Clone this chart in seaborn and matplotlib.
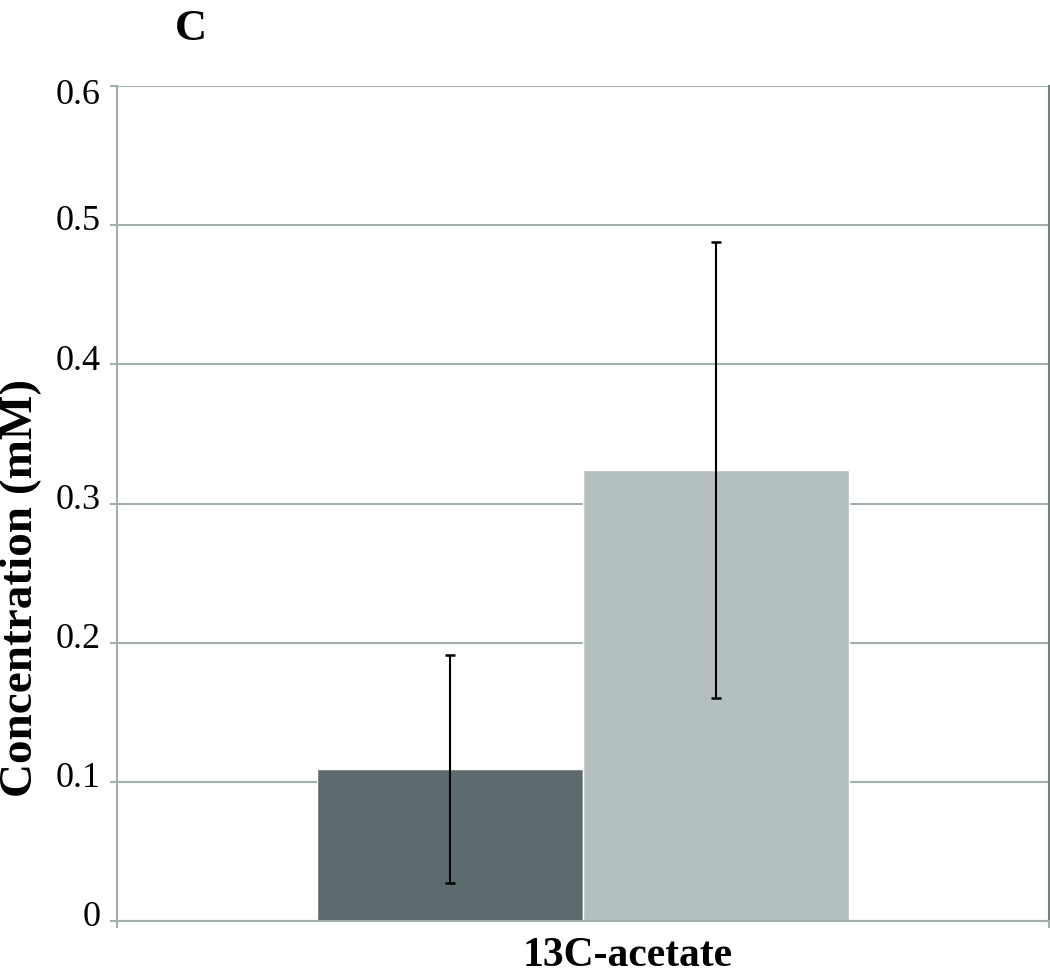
import pandas as pd
import matplotlib.pyplot as plt
import matplotlib.transforms as mtransforms
import seaborn as sns

# Values
categories = ["13C-acetate", "13C-acetate"]
groups = ["Group 1", "Group 2"]
means = [0.109, 0.324]
errors = [0.082, 0.164]
bar_colors = ["#5e6b6e", "#b4c0c0"]
ytick_values = [0, 0.1, 0.2, 0.3, 0.4, 0.5, 0.6]
ytick_labels = ["0", "0.1", "0.2", "0.3", "0.4", "0.5", "0.6"]

GRID = "#a2afab"


def build_frame():
    return pd.DataFrame({"category": categories, "group": groups, "value": means})


def draw(df):
    sns.set_style("white")
    plt.rcParams["font.family"] = ["Liberation Serif", "DejaVu Serif"]
    plt.rcParams["text.color"] = "black"
    plt.rcParams["axes.labelcolor"] = "black"

    fig = plt.figure(figsize=(10.5, 9.79), dpi=100)
    ax = fig.add_axes([0.1114, 0.0582, 0.8876, 0.8529])

    sns.barplot(data=df, x="category", y="value", hue="group",
                palette=bar_colors, width=0.8, saturation=1,
                errorbar=None, legend=False, ax=ax)

    # error bars at the centre of each bar
    bars = sorted(ax.patches, key=lambda p: p.get_x())
    for bar, m, e in zip(bars, means, errors):
        cx = bar.get_x() + bar.get_width() / 2
        ax.errorbar(cx, m, yerr=e, color="black", lw=1.5,
                    capsize=3.8, capthick=1.8, zorder=5)

    ax.set_xlim(-0.7, 0.7)
    ax.set_ylim(0, 0.6)
    ax.set_yticks(ytick_values)
    ax.set_yticklabels(ytick_labels, fontsize=26)
    ax.set_xticks([-0.7, 0.7])
    ax.set_xticklabels(["", ""])

    ax.yaxis.grid(True, color=GRID, lw=1.5)
    ax.set_axisbelow(True)
    ax.spines["top"].set_visible(False)
    for side in ["left", "bottom"]:
        ax.spines[side].set_color(GRID)
        ax.spines[side].set_linewidth(1.5)
    ax.spines["right"].set_color("#72807d")
    ax.spines["right"].set_linewidth(1.5)
    ax.tick_params(axis="y", left=True, length=5, width=1.5, color=GRID,
                   labelcolor="black", pad=7)
    ax.tick_params(axis="x", bottom=True, length=5, width=1.5, color=GRID)

    # lift tick labels so the baseline sits near the gridline (top one sits lower)
    up = mtransforms.ScaledTranslation(0, 6 / 72, fig.dpi_scale_trans)
    down = mtransforms.ScaledTranslation(0, -3 / 72, fig.dpi_scale_trans)
    labels = ax.get_yticklabels()
    for lab in labels[:-1]:
        lab.set_transform(lab.get_transform() + up)
    labels[-1].set_transform(labels[-1].get_transform() + down)

    ax.set_ylabel("Concentration (mM)", fontsize=34, fontweight="bold")
    ax.yaxis.set_label_coords(-0.080, 0.40)
    ax.set_xlabel("13C-acetate", fontsize=30, fontweight="bold")
    ax.xaxis.set_label_coords(0.548, -0.018)

    fig.text(175 / 1050, 1 - 40 / 979, "C", fontsize=32, fontweight="bold",
             ha="left", va="baseline")

    fig.savefig("out.png", dpi=100)


def main():
    df = build_frame()
    draw(df)


if __name__ == "__main__":
    main()
